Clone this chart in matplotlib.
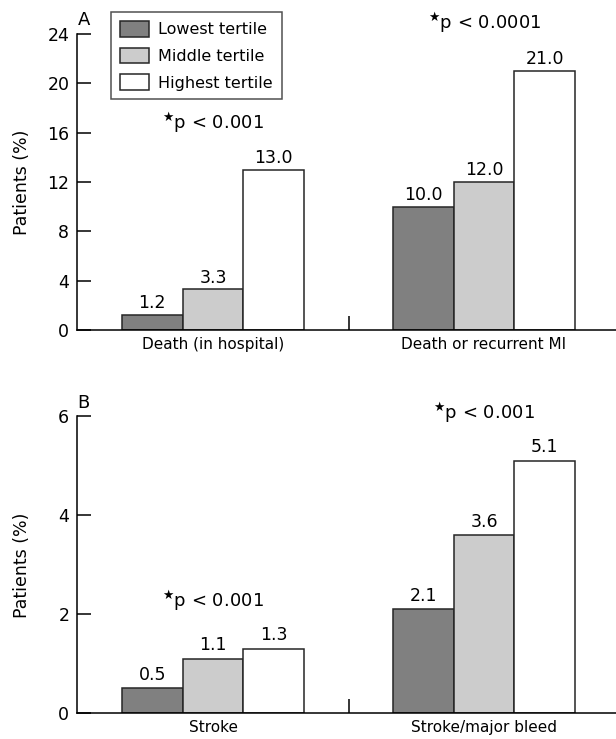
import matplotlib
matplotlib.use("Agg")
import matplotlib.pyplot as plt
from matplotlib.patches import Patch
import numpy as np

plt.rcParams['font.family'] = ['DejaVu Sans']

tertiles = ["Lowest tertile", "Middle tertile", "Highest tertile"]
colors = ["#808080", "#cccccc", "#ffffff"]

cats_a = ["Death (in hospital)", "Death or recurrent MI"]
vals_a = [[1.2, 10.0], [3.3, 12.0], [13.0, 21.0]]
labels_a = [["1.2", "10.0"], ["3.3", "12.0"], ["13.0", "21.0"]]
pvals_a = ["p < 0.001", "p < 0.0001"]
yticks_a = [0, 4, 8, 12, 16, 20, 24]

cats_b = ["Stroke", "Stroke/major bleed"]
vals_b = [[0.5, 2.1], [1.1, 3.6], [1.3, 5.1]]
labels_b = [["0.5", "2.1"], ["1.1", "3.6"], ["1.3", "5.1"]]
pvals_b = ["p < 0.001", "p < 0.001"]
yticks_b = [0, 2, 4, 6]

fig = plt.figure(figsize=(6.16, 7.39), dpi=100)
axA = fig.add_axes([77 / 616, 1 - 330 / 739, 539 / 616, 296 / 739])
axB = fig.add_axes([77 / 616, 1 - 713 / 739, 539 / 616, 297 / 739])

EDGE = "#262626"
W = 0.224
x = np.arange(2)


def panel(ax, cats, vals, labels, pvals, yticks, letter, letter_y,
          pval_pos, lab_off):
    for i in range(3):
        pos = x + (i - 1) * W
        ax.bar(pos, vals[i], width=W, color=colors[i], edgecolor=EDGE,
               linewidth=1.1, zorder=2)
        for j in range(2):
            ax.annotate(labels[i][j], (pos[j], vals[i][j]),
                        xytext=(0, lab_off), textcoords="offset points",
                        ha="center", va="bottom", fontsize=12.5)
    ax.set_xlim(-0.502, 1.487)
    ax.set_ylim(0, yticks[-1])
    ax.set_yticks(yticks)
    ax.set_yticklabels([str(t) for t in yticks], fontsize=12.5)
    ax.tick_params(axis="y", direction="in", length=10, width=1.1, pad=5.5)
    ax.set_xticks(x)
    ax.set_xticklabels(cats, fontsize=11)
    ax.tick_params(axis="x", which="major", length=0, pad=5)
    ax.set_xticks([0.5], minor=True)
    ax.tick_params(axis="x", which="minor", direction="in", length=10,
                   width=1.1)
    for s in ["top", "right"]:
        ax.spines[s].set_visible(False)
    for s in ["left", "bottom"]:
        ax.spines[s].set_linewidth(1.1)
    ax.text(-0.50, letter_y, letter, fontsize=13, ha="left", va="baseline",
            clip_on=False)
    for (px, py), p in zip(pval_pos, pvals):
        ax.text(px, py, r"$^{\bigstar}$" + p, fontsize=13, ha="left",
                va="center", clip_on=False)


panel(axA, cats_a, vals_a, labels_a, pvals_a, yticks_a, "A", 24.73,
      [(-0.188, 16.8), (0.793, 24.95)], 2)
panel(axB, cats_b, vals_b, labels_b, pvals_b, yticks_b, "B", 6.16,
      [(-0.188, 2.28), (0.812, 6.06)], 3)

fig.text(22 / 616, 1 - 182 / 739, "Patients (%)", rotation=90,
         ha="center", va="center", fontsize=12.5)
fig.text(22 / 616, 1 - 565 / 739, "Patients (%)", rotation=90,
         ha="center", va="center", fontsize=12.5)

handles = [Patch(facecolor=c, edgecolor=EDGE, linewidth=1.1) for c in colors]
leg = axA.legend(handles, tertiles, loc="upper left",
                 bbox_to_anchor=(111 / 616, 1 - 12 / 739),
                 bbox_transform=fig.transFigure, fontsize=11.5,
                 frameon=True, fancybox=False, edgecolor=EDGE,
                 handlelength=1.8, handleheight=1.15, handletextpad=0.6,
                 labelspacing=0.65, borderpad=0.55, borderaxespad=0)
leg.get_frame().set_linewidth(1.1)

fig.savefig("out.png", dpi=100)
